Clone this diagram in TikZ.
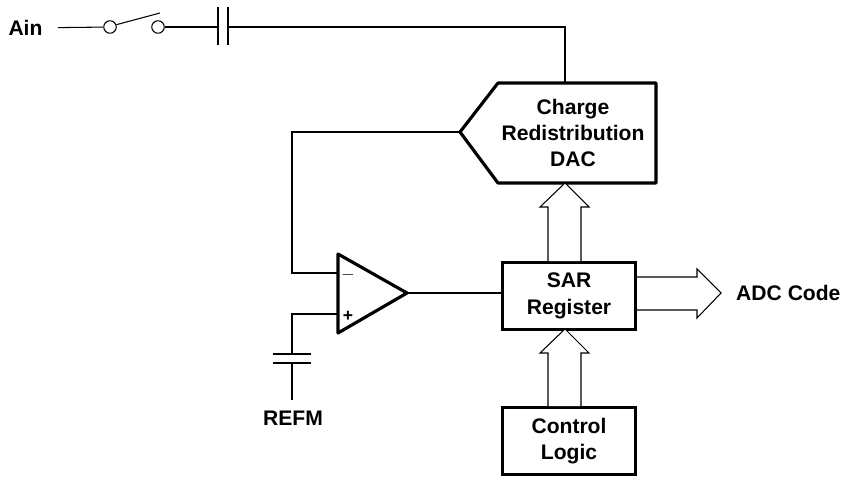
\documentclass[tikz,border=0pt]{standalone}
\usepackage{fontspec}
\setmainfont{Liberation Sans}
\usetikzlibrary{positioning}

\begin{document}
\begin{tikzpicture}[x=0.02cm, y=-0.02cm, line width=0.6pt,
    box/.style={draw, line width=1.8pt, minimum width=2.66cm, minimum height=1.33cm, align=center, font=\bfseries\fontsize{12}{15}\selectfont},
    lbl/.style={font=\bfseries\fontsize{12}{15}\selectfont},
    thickline/.style={line width=1.8pt, line join=round},
    pin/.style={draw, circle, minimum size=0.25cm, inner sep=0pt},
    bus/.style={draw, line width=0.6pt, fill=white}]
    \useasboundingbox (0,0) rectangle (844,477);

    % Define the blocks
    \node[box] (sar) at (569,296) {SAR\\Register};
    \node[box] (ctrl) at (569,441) {Control\\Logic};
    \draw[thickline] (498,83) -- (656,83) -- (656,183) -- (498,183) -- (460,132) -- cycle;
    \node[lbl, align=center] (dac) at (573,133) {Charge\\Redistribution\\DAC};
    \coordinate (dacin) at (460,132);
    \coordinate (dactop) at (565,83);

    % Define the comparator
    \draw[thickline] (338,254) -- (407,293) -- (338,333) -- cycle;
    \coordinate (minus) at (338,273);
    \coordinate (plus) at (338,314);
    \coordinate (oaout) at (407,293);
    \node[inner sep=0pt] (msign) at (348,275) {$-$};
    \node[inner sep=0pt, font=\bfseries] (psign) at (348,316) {+};

    % Define the input switch and capacitor
    \node[lbl, anchor=east, inner xsep=0.3cm] (ain) at (58,28) {Ain};
    \node[pin] (sw1) at (110,27) {};
    \node[pin] (sw2) at (158,27) {};
    \coordinate (c1) at (218,27);
    \coordinate (c2) at (228,27);
    \draw (ain) -- (sw1);
    \draw (sw1.20) -- (160,13);
    \draw (sw2) -- (c1);
    \draw (c1) ++(0,-20) -- ++(0,38);
    \draw (c2) ++(0,-20) -- ++(0,38);
    \draw (c2) -| (dactop);

    % Define the reference capacitor
    \coordinate (fbcorner) at (292,132);
    \coordinate (pcorner) at (292,314);
    \coordinate (ctop) at (292,354);
    \coordinate (cbot) at (292,363);
    \node[lbl] (refm) at (293,418) {REFM};
    \draw (dacin) -- (fbcorner) |- (minus);
    \draw (plus) -- (pcorner) -- (ctop);
    \draw (ctop) ++(-19,0) -- ++(38,0);
    \draw (cbot) ++(-19,0) -- ++(38,0);
    \draw (cbot) -- (292,400);
    \draw (oaout) -- (sar.west |- oaout);

    % Define the bus arrows
    \draw[bus] (sar.north -| 548,0) -- (548,207) -- (540,207) -- (565,183)
        -- (589,207) -- (581,207) -- (sar.north -| 581,0);
    \draw[bus] (ctrl.north -| 548,0) -- (548,353) -- (540,353) -- (565,329)
        -- (589,353) -- (581,353) -- (ctrl.north -| 581,0);
    \draw[bus] (sar.east |- 0,277) -- (697,277) -- (697,269) -- (721,293)
        -- (697,318) -- (697,310) -- (sar.east |- 0,310);
    \node[lbl, anchor=east, inner xsep=0pt] (code) at (841,293) {ADC Code};
\end{tikzpicture}
\end{document}
